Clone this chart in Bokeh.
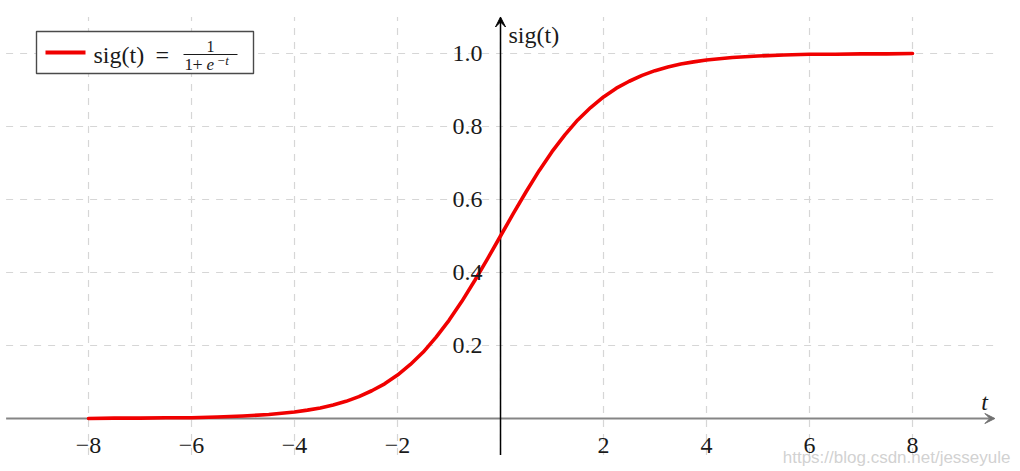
from bokeh.plotting import figure
from bokeh.models import Range1d, Arrow, VeeHead, BoxAnnotation, Label
from bokeh.core.properties import value
from bokeh.embed import file_html
from bokeh.resources import INLINE

# ---- data ----
T = [-8, -7.5, -7, -6.5, -6, -5.5, -5, -4.5, -4, -3.75, -3.5, -3.25, -3, -2.75,
     -2.5, -2.25, -2, -1.75, -1.5, -1.25, -1, -0.75, -0.5, -0.25, 0, 0.25, 0.5,
     0.75, 1, 1.25, 1.5, 1.75, 2, 2.25, 2.5, 2.75, 3, 3.25, 3.5, 3.75, 4, 4.5,
     5, 5.5, 6, 6.5, 7, 7.5, 8]
SIG = [0.000, 0.001, 0.001, 0.002, 0.002, 0.004, 0.007, 0.011, 0.018, 0.023,
       0.029, 0.037, 0.047, 0.060, 0.076, 0.095, 0.119, 0.148, 0.182, 0.223,
       0.269, 0.321, 0.378, 0.438, 0.500, 0.562, 0.622, 0.679, 0.731, 0.777,
       0.818, 0.852, 0.881, 0.905, 0.924, 0.940, 0.953, 0.963, 0.971, 0.977,
       0.982, 0.989, 0.993, 0.996, 0.998, 0.998, 0.999, 0.999, 1.000]

X_TICKS = [-8, -6, -4, -2, 2, 4, 6, 8]
X_TICK_LABELS = ["\u22128", "\u22126", "\u22124", "\u22122", "2", "4", "6", "8"]
Y_TICKS = [0.2, 0.4, 0.6, 0.8, 1.0]
Y_TICK_LABELS = ["0.2", "0.4", "0.6", "0.8", "1.0"]
X_GRID = [-8, -6, -4, -2, 0, 2, 4, 6, 8]
Y_GRID = [0.2, 0.4, 0.6, 0.8, 1.0]
AX_XMIN, AX_XMAX = -9.6, 9.6
AX_YMIN, AX_YMAX = -0.1, 1.1

# ---- layout ----
W, H = 1020, 471
XMIN, XMAX = -9.709, 10.097
YMIN, YMAX = -0.1452, 1.1452
SERIF = "Liberation Serif"
INK = "#1a1a1a"

p = figure(width=W, height=H, x_range=Range1d(XMIN, XMAX), y_range=Range1d(YMIN, YMAX),
           x_axis_type=None, y_axis_type=None, toolbar_location=None,
           output_backend="svg", min_border=0, title=None, outline_line_color=None,
           background_fill_color="white", border_fill_color="white")

GRID_COLOR = "#d6d6d6"
# horizontal grid
p.segment(x0=[AX_XMIN] * len(Y_GRID), x1=[AX_XMAX] * len(Y_GRID), y0=Y_GRID, y1=Y_GRID,
          line_color=GRID_COLOR, line_width=1.2, line_dash="7 7")
# vertical grid
p.segment(x0=X_GRID, x1=X_GRID, y0=[AX_YMIN] * len(X_GRID), y1=[AX_YMAX] * len(X_GRID),
          line_color=GRID_COLOR, line_width=1.2, line_dash="7 7")

# axis lines
p.segment(x0=[AX_XMIN], x1=[AX_XMAX - 0.1], y0=[0], y1=[0], line_color="#858585", line_width=2.2)
p.segment(x0=[0], x1=[0], y0=[AX_YMIN], y1=[AX_YMAX - 0.01], line_color="black", line_width=1.5)

# curve
p.line(T, SIG, line_color="#f00000", line_width=3.6, line_join="round", line_cap="round")

# arrow heads
p.add_layout(Arrow(x_start=AX_XMAX - 0.2, y_start=0, x_end=AX_XMAX, y_end=0, line_alpha=0,
                   end=VeeHead(size=10, fill_color="#707070", line_color="#707070", line_width=1)))
p.add_layout(Arrow(x_start=0, y_start=AX_YMAX - 0.05, x_end=0, y_end=AX_YMAX, line_alpha=0,
                   end=VeeHead(size=10, fill_color="black", line_color="black", line_width=1)))

# tick labels
p.text(x=X_TICKS, y=[0] * len(X_TICKS), text=X_TICK_LABELS, text_font=value(SERIF),
       text_font_size="24px", text_align="center", text_baseline="alphabetic",
       y_offset=27, text_color=INK)
p.text(x=[0] * len(Y_TICKS), y=Y_TICKS, text=Y_TICK_LABELS, text_font=value(SERIF),
       text_font_size="24px", text_align="right", text_baseline="alphabetic",
       x_offset=-18, y_offset=0, text_color=INK)

# axis labels
p.text(x=[0], y=[1.0], text=["sig(t)"], text_font=value(SERIF), text_font_size="24px",
       text_align="left", text_baseline="alphabetic", x_offset=8, y_offset=-18, text_color=INK)
p.text(x=[AX_XMAX], y=[0], text=["t"], text_font=value(SERIF), text_font_size="24px",
       text_font_style="italic", text_align="right", text_baseline="alphabetic",
       x_offset=-7, y_offset=-17, text_color=INK)

# legend (screen units, bottom-left origin)
p.add_layout(BoxAnnotation(left=36, right=253, top=440, bottom=398,
                           left_units="screen", right_units="screen",
                           top_units="screen", bottom_units="screen",
                           fill_color="white", fill_alpha=1.0,
                           line_color="#4a4a4a", line_width=1.4, line_alpha=1.0))
p.add_layout(Arrow(x_start=45, y_start=419, x_end=85, y_end=419, start_units="screen",
                   end_units="screen", end=None, line_color="#f00000", line_width=4))
p.add_layout(Label(x=93, y=417, x_units="screen", y_units="screen", text="sig(t)",
                   text_font=SERIF, text_font_size="24px", text_baseline="alphabetic",
                   text_color=INK))
p.add_layout(Label(x=155, y=417, x_units="screen", y_units="screen", text="=",
                   text_font=SERIF, text_font_size="24px", text_baseline="alphabetic",
                   text_color=INK))
p.add_layout(Arrow(x_start=183, y_start=417, x_end=237, y_end=417, start_units="screen",
                   end_units="screen", end=None, line_color=INK, line_width=1))
p.add_layout(Label(x=210, y=425, x_units="screen", y_units="screen", text="1",
                   text_font=SERIF, text_font_size="16px", text_align="center",
                   text_baseline="alphabetic", text_color=INK))
p.add_layout(Label(x=184, y=407, x_units="screen", y_units="screen", text="1",
                   text_font=SERIF, text_font_size="17px", text_baseline="alphabetic",
                   text_color=INK))
p.add_layout(Label(x=192, y=407, x_units="screen", y_units="screen", text="+",
                   text_font=SERIF, text_font_size="18px", text_baseline="alphabetic",
                   text_color=INK))
p.add_layout(Label(x=206, y=407, x_units="screen", y_units="screen", text="e",
                   text_font=SERIF, text_font_size="17px", text_font_style="italic",
                   text_baseline="alphabetic", text_color=INK))
p.add_layout(Label(x=216, y=411, x_units="screen", y_units="screen", text="\u2212t",
                   text_font=SERIF, text_font_size="13px", text_font_style="italic",
                   text_baseline="alphabetic", text_color=INK))

# watermark
p.add_layout(Label(x=1010, y=14, x_units="screen", y_units="screen",
                   text="https://blog.csdn.net/jesseyule", text_font="Liberation Sans",
                   text_font_size="17px", text_align="right", text_baseline="alphabetic",
                   text_color="#cccccc", text_alpha=0.9))

open("out.html", "w").write(file_html(p, INLINE))
